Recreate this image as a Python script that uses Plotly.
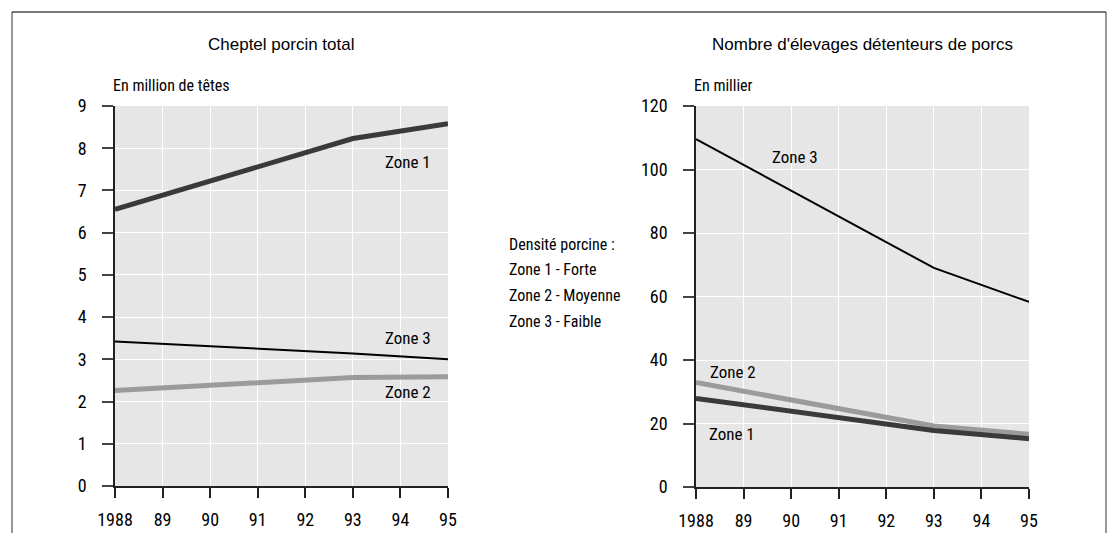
import plotly.graph_objects as go

years = [1988, 1993, 1995]
tick_years = [1988, 1989, 1990, 1991, 1992, 1993, 1994, 1995]
tick_text = ["1988", "89", "90", "91", "92", "93", "94", "95"]

# Cheptel porcin total, en million de têtes
cheptel_z1 = [6.55, 8.23, 8.58]
cheptel_z2 = [2.26, 2.57, 2.59]
cheptel_z3 = [3.42, 3.14, 3.00]

# Nombre d'élevages détenteurs de porcs, en millier
elevages_z1 = [27.9, 17.8, 15.2]
elevages_z2 = [32.9, 19.2, 16.6]
elevages_z3 = [109.6, 69.0, 58.3]

W, H = 1112, 533
NARROW = "Roboto Condensed, DejaVu Sans Condensed, sans-serif"
SANS = "Liberation Sans, Arial, sans-serif"

Z1 = "#3a3a3a"
Z2 = "#9b9b9b"
Z3 = "#000000"


def px(x):
    return x / W


def py(y):
    return 1 - y / H


fig = go.Figure()

for xa, ya, z1, z2, z3 in [("x", "y", cheptel_z1, cheptel_z2, cheptel_z3),
                           ("x2", "y2", elevages_z1, elevages_z2, elevages_z3)]:
    fig.add_trace(go.Scatter(x=years, y=z2, mode="lines", line=dict(color=Z2, width=5),
                             xaxis=xa, yaxis=ya, showlegend=False, cliponaxis=False))
    fig.add_trace(go.Scatter(x=years, y=z1, mode="lines", line=dict(color=Z1, width=5),
                             xaxis=xa, yaxis=ya, showlegend=False, cliponaxis=False))
    fig.add_trace(go.Scatter(x=years, y=z3, mode="lines", line=dict(color=Z3, width=2),
                             xaxis=xa, yaxis=ya, showlegend=False, cliponaxis=False))

xcommon = dict(range=[1988, 1995], tickvals=tick_years, ticktext=tick_text, ticks="outside",
               ticklen=10, tickwidth=1.5, tickcolor="#222", showline=True, linecolor="#222",
               linewidth=1.5, showgrid=True, gridcolor="white", gridwidth=1.2, zeroline=False,
               ticklabelstandoff=7, tickfont=dict(family=NARROW, size=18, color="#000"),
               fixedrange=True, automargin=False)
ycommon = dict(ticks="outside", ticklen=11, tickwidth=1.5, tickcolor="#444", showline=True,
               linecolor="#222", linewidth=1.5, showgrid=True, gridcolor="white", gridwidth=1.2,
               zeroline=False, ticklabelstandoff=12,
               tickfont=dict(family=NARROW, size=18, color="#000"), fixedrange=True,
               automargin=False)

fig.update_layout(
    width=W, height=H,
    margin=dict(l=0, r=0, t=0, b=0, autoexpand=False),
    paper_bgcolor="white",
    plot_bgcolor="#e6e6e6",
    xaxis=dict(domain=[px(115), px(448)], anchor="y", **xcommon),
    yaxis=dict(domain=[py(486), py(106)], anchor="x", range=[0, 9], dtick=1, **ycommon),
    xaxis2=dict(domain=[px(696), px(1029)], anchor="y2", **xcommon),
    yaxis2=dict(domain=[py(487), py(106)], anchor="x2", range=[0, 120], dtick=20, **ycommon),
)

notes = [
    dict(text="Cheptel porcin total", x=px(281), y=py(45), font=dict(family=SANS, size=17)),
    dict(text="Nombre d'élevages détenteurs de porcs", x=px(862), y=py(45), font=dict(family=SANS, size=17)),
    dict(text="En million de têtes", x=px(111), y=py(85), xanchor="left", font=dict(family=NARROW, size=16)),
    dict(text="En millier", x=px(692), y=py(85), xanchor="left", font=dict(family=NARROW, size=16)),
    dict(text="Densité porcine :", x=px(507), y=py(244), xanchor="left", font=dict(family=NARROW, size=16)),
    dict(text="Zone 1 - Forte", x=px(507), y=py(269), xanchor="left", font=dict(family=NARROW, size=16)),
    dict(text="Zone 2 - Moyenne", x=px(507), y=py(295), xanchor="left", font=dict(family=NARROW, size=16)),
    dict(text="Zone 3 - Faible", x=px(507), y=py(321), xanchor="left", font=dict(family=NARROW, size=16)),
]
for n in notes:
    n.setdefault("xanchor", "center")
    fig.add_annotation(xref="paper", yref="paper", yanchor="middle", showarrow=False,
                       font_color="#000", **n)

# labels next to the lines, in data units
zone_labels = [
    ("x", "y", 1994.16, 7.68, "Zone 1"),
    ("x", "y", 1994.16, 3.51, "Zone 3"),
    ("x", "y", 1994.16, 2.23, "Zone 2"),
    ("x2", "y2", 1990.08, 103.9, "Zone 3"),
    ("x2", "y2", 1988.78, 36.2, "Zone 2"),
    ("x2", "y2", 1988.76, 16.7, "Zone 1"),
]
for xr, yr, x, y, t in zone_labels:
    fig.add_annotation(xref=xr, yref=yr, x=x, y=y, text=t, showarrow=False,
                       font=dict(family=NARROW, size=17, color="#000"))

# frame around the figure
fig.add_shape(type="line", xref="paper", yref="paper", x0=px(12), x1=px(1106), y0=py(12), y1=py(12),
              line=dict(color="#7a7a7a", width=2))
fig.add_shape(type="line", xref="paper", yref="paper", x0=px(12), x1=px(12), y0=py(12), y1=0,
              line=dict(color="#333", width=1))
fig.add_shape(type="line", xref="paper", yref="paper", x0=px(1106), x1=px(1106), y0=py(12), y1=0,
              line=dict(color="#333", width=1))

fig.write_html("out.html", config={"displayModeBar": False},
               post_script="document.body.style.margin='0';document.body.style.overflow='hidden';")
